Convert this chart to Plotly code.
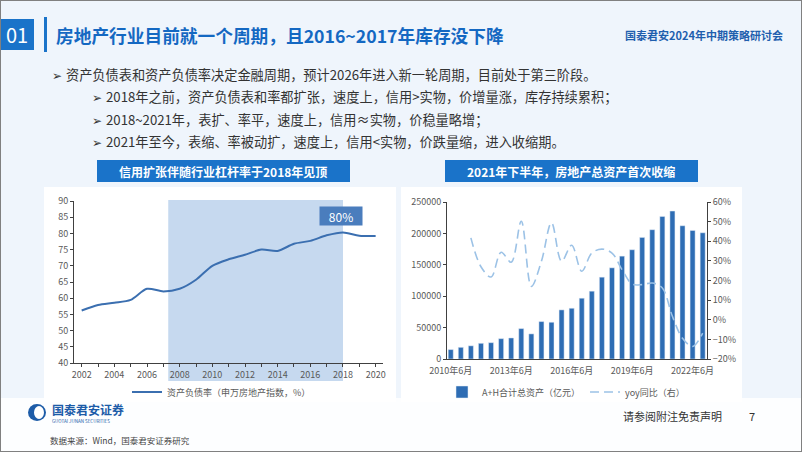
import plotly.graph_objects as go

W, H = 802, 452

# ---------------- data ----------------
years = list(range(2002, 2021))
leverage = [56.2, 57.9, 58.6, 59.5, 62.9, 62.1, 62.9, 65.7, 70.0, 72.0,
            73.4, 75.0, 74.6, 76.8, 77.7, 79.4, 80.3, 79.3, 79.2]
year_ticks = [2002, 2004, 2006, 2008, 2010, 2012, 2014, 2016, 2018, 2020]

periods = [f"{y}年{m}月" for y in range(2010, 2023) for m in (6, 12)]
total_assets = [15000, 18600, 21000, 25000, 26000, 32400, 33500, 48400, 40000, 59600,
                58500, 78200, 80800, 96800, 108000, 130300, 145200, 163800, 174000, 193600,
                205900, 227100, 235600, 212200, 204800, 201000]
yoy = [None, None, 0.417, 0.27, 0.218, 0.344, 0.293, 0.502, 0.17, 0.298,
       0.494, 0.298, 0.38, 0.247, 0.34, 0.36, 0.34, 0.255, 0.182, 0.179,
       0.187, 0.162, 0.017, -0.094, -0.136, -0.068]
period_ticks = ["2010年6月", "2013年6月", "2016年6月", "2019年6月", "2022年6月"]

FONT = "Noto Sans CJK SC"
BLUE = "#1a73c9"


def px(x):
    return x / W


def py(y):
    return 1 - y / H


fig = go.Figure()

fig.add_trace(go.Scatter(
    x=years, y=leverage, mode="lines", line=dict(color="#3b6fb0", width=2, shape="spline", smoothing=0.8),
    name="资产负债率（申万房地产指数，%）", xaxis="x", yaxis="y", legend="legend", showlegend=True))

fig.add_trace(go.Bar(
    x=periods, y=total_assets, marker_color="#2e6db4", name="A+H合计总资产（亿元）",
    xaxis="x2", yaxis="y2", legend="legend2", showlegend=True))

fig.add_trace(go.Scatter(
    x=periods, y=yoy, mode="lines", line=dict(color="#9cc2e6", width=1.6, dash="9px,5px", shape="spline", smoothing=1.0),
    name="yoy同比（右）", xaxis="x2", yaxis="y3", legend="legend2", connectgaps=False, showlegend=True))

axis_font = dict(family=FONT, size=9, color="#595959")

fig.update_layout(
    width=W, height=H, autosize=False,
    margin=dict(l=0, r=0, t=0, b=0, pad=0, autoexpand=False),
    paper_bgcolor="#eff5fc", plot_bgcolor="rgba(0,0,0,0)",
    font=dict(family=FONT),
    showlegend=True,
    bargap=0.5,
    xaxis=dict(domain=[px(74), px(383)], anchor="y", range=[2001.53, 2020.45],
               tickvals=years, ticktext=[str(y) if y in year_ticks else "" for y in years],
               showgrid=False, zeroline=False, showline=True, linecolor="#404040", linewidth=1,
               ticks="outside", ticklen=3, tickcolor="#404040", tickfont=axis_font, automargin=False),
    yaxis=dict(domain=[py(363), py(201)], anchor="x", range=[40, 90], dtick=5,
               showgrid=False, zeroline=False, showline=True, linecolor="#404040", linewidth=1,
               ticks="outside", ticklen=3, tickcolor="#404040", tickfont=axis_font, automargin=False),
    xaxis2=dict(domain=[px(447), px(707)], anchor="y2", type="category", range=[-0.37, 25.43],
                tickvals=period_ticks, ticktext=period_ticks, tickangle=0, ticklabelstandoff=3,
                showgrid=False, zeroline=False, showline=True, linecolor="#404040", linewidth=1,
                ticks="", tickfont=axis_font, automargin=False),
    yaxis2=dict(domain=[py(359), py(202)], anchor="x2", range=[0, 250000], dtick=50000, tickformat="d",
                showgrid=False, zeroline=False, showline=True, linecolor="#404040", linewidth=1,
                ticks="outside", ticklen=3, tickcolor="#404040", tickfont=axis_font, automargin=False),
    yaxis3=dict(overlaying="y2", anchor="x2", side="right", range=[-0.2, 0.6], dtick=0.1,
                tickformat=".0%", showgrid=False, zeroline=False, showline=True,
                linecolor="#404040", linewidth=1, ticks="outside", ticklen=3, tickcolor="#404040",
                tickfont=axis_font, automargin=False),
    legend=dict(x=px(127), y=py(392), xanchor="left", yanchor="middle", orientation="h",
                bgcolor="rgba(0,0,0,0)", font=dict(family=FONT, size=9, color="#595959"),
                itemwidth=30),
    legend2=dict(x=px(442), y=py(392), xanchor="left", yanchor="middle", orientation="h",
                 bgcolor="rgba(0,0,0,0)", font=dict(family=FONT, size=9, color="#595959"),
                 itemwidth=30, tracegroupgap=30),
)

shapes = []
# footer & chart white backgrounds
shapes.append(dict(type="rect", xref="paper", yref="paper", x0=0, x1=1, y0=0, y1=py(398),
                   fillcolor="#fdfeff", line=dict(width=0), layer="below"))
shapes.append(dict(type="rect", xref="paper", yref="paper", x0=px(44), x1=px(396), y0=py(402), y1=py(187),
                   fillcolor="white", line=dict(width=0), layer="below"))
shapes.append(dict(type="rect", xref="paper", yref="paper", x0=px(401), x1=px(742), y0=py(402), y1=py(187),
                   fillcolor="white", line=dict(width=0), layer="below"))
# shaded period on left chart
shapes.append(dict(type="rect", xref="x", yref="paper", x0=2007.3, x1=2018.0, y0=py(381), y1=py(200),
                   fillcolor="#c6d9ef", line=dict(width=0), layer="below"))
# title decorations
shapes.append(dict(type="rect", xref="paper", yref="paper", x0=0, x1=px(34), y0=py(50), y1=py(19),
                   fillcolor=BLUE, line=dict(width=0)))
shapes.append(dict(type="rect", xref="paper", yref="paper", x0=px(44), x1=px(47), y0=py(52), y1=py(17),
                   fillcolor=BLUE, line=dict(width=0)))
# chart header boxes
shapes.append(dict(type="rect", xref="paper", yref="paper", x0=px(97), x1=px(350), y0=py(182), y1=py(160),
                   fillcolor=BLUE, line=dict(width=0)))
shapes.append(dict(type="rect", xref="paper", yref="paper", x0=px(445), x1=px(698), y0=py(182), y1=py(160),
                   fillcolor=BLUE, line=dict(width=0)))
# logo
shapes.append(dict(type="circle", xref="paper", yref="paper", x0=px(28), x1=px(46), y0=py(421), y1=py(404),
                   fillcolor="#1d5ca8", line=dict(width=0)))
shapes.append(dict(type="circle", xref="paper", yref="paper", x0=px(34), x1=px(44), y0=py(419), y1=py(406),
                   fillcolor="white", line=dict(width=0)))
# frame
shapes.append(dict(type="rect", xref="paper", yref="paper", x0=0, x1=1, y0=0, y1=1,
                   fillcolor="rgba(0,0,0,0)", line=dict(color="#808080", width=2)))
fig.update_layout(shapes=shapes)

ann = []


def text(x, y, s, size, color="#333333", xanchor="left", bold=False, family=FONT, **kw):
    ann.append(dict(xref="paper", yref="paper", x=px(x), y=py(y), text=f"<b>{s}</b>" if bold else s,
                    showarrow=False, xanchor=xanchor, yanchor="middle",
                    font=dict(family=family, size=size, color=color), **kw))


text(17, 35, "01", 20, color="white", xanchor="center")
text(54, 35, "房地产行业目前就一个周期，且2016~2017年库存没下降", 17.7, color="#1468c2", bold=True)
text(785, 35, "国泰君安2024年中期策略研讨会", 11, color="#1f5fae", xanchor="right", bold=True)

text(50, 75, "➢", 12, color="#333333")
text(64, 75, "资产负债表和资产负债率决定金融周期，预计2026年进入新一轮周期，目前处于第三阶段。", 13.2)
text(90, 97, "➢", 12, color="#333333")
text(104, 97, "2018年之前，资产负债表和率都扩张，速度上，信用>实物，价增量涨，库存持续累积；", 13.2)
text(90, 119, "➢", 12, color="#333333")
text(104, 119, "2018~2021年，表扩、率平，速度上，信用≈实物，价稳量略增；", 13.2)
text(90, 141, "➢", 12, color="#333333")
text(104, 141, "2021年至今，表缩、率被动扩，速度上，信用<实物，价跌量缩，进入收缩期。", 13.2)

text(223, 171, "信用扩张伴随行业杠杆率于2018年见顶", 12, color="white", xanchor="center", bold=True)
text(571, 171, "2021年下半年，房地产总资产首次收缩", 12, color="white", xanchor="center", bold=True)

# 80% label box on left chart
ann.append(dict(xref="x", yref="y", x=2017.9, y=85.4, text="80%", showarrow=False,
                font=dict(family=FONT, size=12, color="white"), bgcolor="#4a7dbd",
                width=40, height=16, borderpad=1))

text(50, 409, "国泰君安证券", 12, color="#1d5ca8", bold=True)
text(50, 421, "GUOTAI JUNAN SECURITIES", 4.5, color="#1d5ca8")
text(672, 416, "请参阅附注免责声明", 11, color="#333333", xanchor="center")
text(752, 416, "7", 11, color="#333333", xanchor="center")
text(48, 440, "数据来源：Wind，国泰君安证券研究", 8.5, color="#444444")

fig.update_layout(annotations=ann)

fig.write_html("out.html", config={"displayModeBar": False},
               post_script="document.body.style.margin='0';")
